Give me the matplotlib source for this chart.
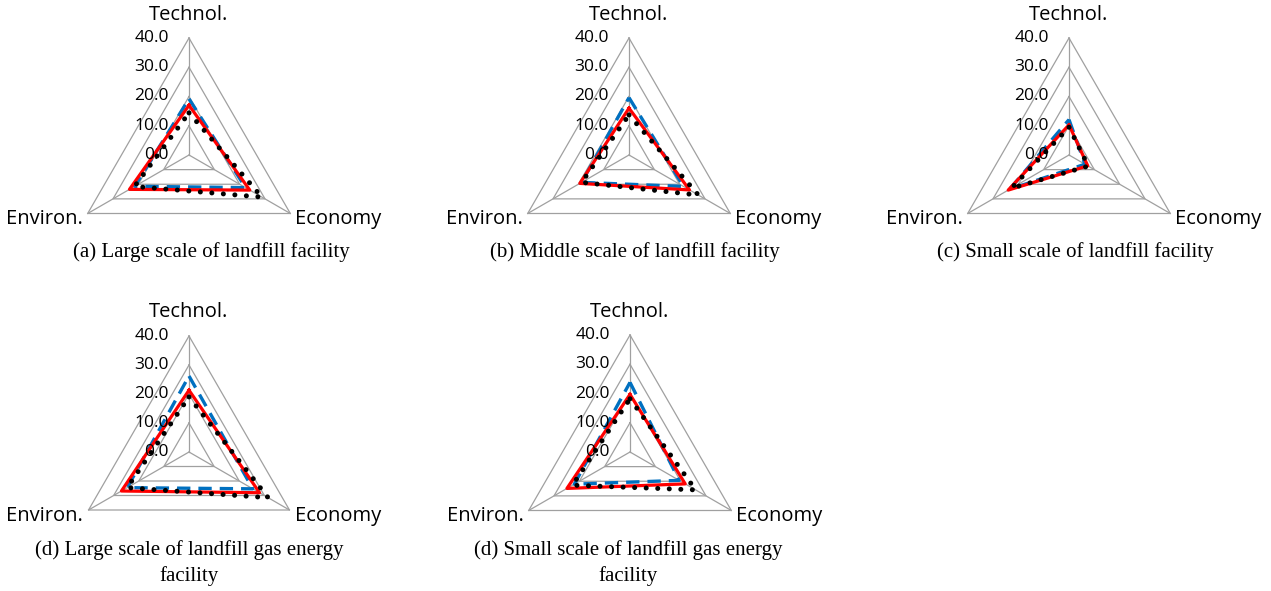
import numpy as np
import matplotlib
matplotlib.use("Agg")
import matplotlib.pyplot as plt

# axes of every radar, clockwise from the top
categories = ["Technol.", "Economy", "Environ."]
ring_values = [0, 10, 20, 30, 40]

# values per panel: Technol., Economy, Environ.
a_blue = [19.2, 22.3, 21.4]
a_red = [17.0, 24.0, 23.5]
a_black = [14.4, 28.8, 21.5]

b_blue = [19.6, 21.5, 18.7]
b_red = [16.0, 23.9, 19.4]
b_black = [13.7, 27.4, 18.7]

c_blue = [12.1, 6.3, 23.5]
c_red = [10.3, 7.4, 24.0]
c_black = [9.5, 7.6, 22.7]

d_blue = [26.2, 25.4, 24.6]
d_red = [21.3, 28.1, 26.9]
d_black = [19.0, 31.5, 24.6]

e_blue = [23.8, 19.4, 22.0]
e_red = [19.7, 21.8, 24.9]
e_black = [18.2, 25.9, 22.7]

captions = [
    "(a) Large scale of landfill facility",
    "(b) Middle scale of landfill facility",
    "(c) Small scale of landfill facility",
    "(d) Large scale of landfill gas energy\nfacility",
    "(d) Small scale of landfill gas energy\nfacility",
]

W, H = 1271, 591
fig = plt.figure(figsize=(W / 100, H / 100), dpi=100)

sans = ["Open Sans", "DejaVu Sans"]
serif = ["Liberation Serif", "DejaVu Serif"]

angles = np.deg2rad([90, -30, 210])
rmax = 40.0


def radar(cx, cy, R, blue, red, black):
    # cx, cy: centre in pixels from the top left; R: pixels for 40
    L = 160
    ax = fig.add_axes([(cx - L) / W, 1 - (cy + L) / H, 2 * L / W, 2 * L / H])
    lim = L / R * rmax
    ax.set_xlim(-lim, lim)
    ax.set_ylim(-lim, lim)
    ax.axis("off")

    ang_c = np.append(angles, angles[0])
    for v in ring_values[1:]:
        ax.plot(v * np.cos(ang_c), v * np.sin(ang_c), color="#a0a0a0", lw=0.9, zorder=1)
    for a in angles:
        ax.plot([0, rmax * np.cos(a)], [0, rmax * np.sin(a)], color="#a0a0a0", lw=0.9, zorder=1)

    def series(vals, **kw):
        r = np.append(vals, vals[0])
        ax.plot(r * np.cos(ang_c), r * np.sin(ang_c), **kw)

    series(blue, color="#0070c0", lw=2.4, linestyle=(0, (4, 2.4)), zorder=3)
    series(red, color="#ff0000", lw=2.3, zorder=4)
    series(black, color="black", lw=3.6, linestyle=(0, (0.01, 2.3)),
           dash_capstyle="round", zorder=5)

    px = rmax / R  # data units per pixel
    for v in ring_values:
        ax.text(-20 * px, v, f"{v:.1f}", ha="right", va="center",
                fontsize=12.5, family=sans, zorder=6)
    ax.text(0, 140 * px, categories[0], ha="center", va="center", fontsize=14.5, family=sans)
    ax.text(106 * px, -64 * px, categories[1], ha="left", va="center", fontsize=14.5, family=sans)
    ax.text(-106 * px, -64 * px, categories[2], ha="right", va="center", fontsize=14.5, family=sans)


radar(189, 155, 117, a_blue, a_red, a_black)
radar(629, 155, 117, b_blue, b_red, b_black)
radar(1069, 155, 117, c_blue, c_red, c_black)
radar(189, 452, 116, d_blue, d_red, d_black)
radar(630, 452, 117, e_blue, e_red, e_black)

cap_pos = [(211, 252), (635, 252), (1075, 252), (189, 563), (628, 563)]
for (x, y), t in zip(cap_pos, captions):
    fig.text(x / W, 1 - y / H, t, ha="center", va="center", fontsize=15,
             family=serif, linespacing=1.4)

fig.savefig("out.png", dpi=100)
